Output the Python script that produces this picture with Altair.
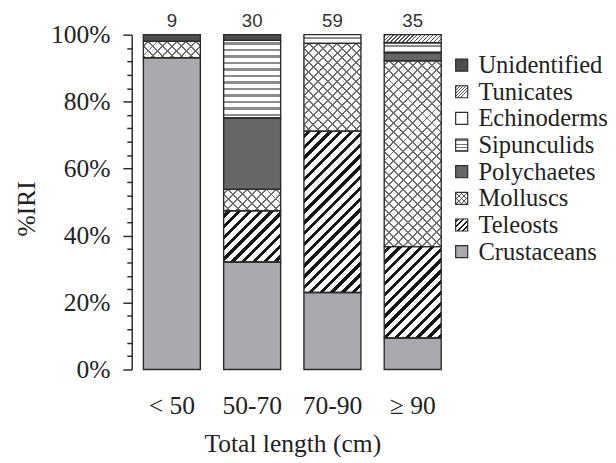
import altair as alt
import pandas as pd

# ---------------- data ----------------
sizes = ["< 50", "50-70", "70-90", "≥ 90"]
counts = [9, 30, 59, 35]
# stacking order, bottom to top
categories = ["Crustaceans", "Teleosts", "Molluscs", "Polychaetes",
              "Sipunculids", "Echinoderms", "Tunicates", "Unidentified"]
crustaceans = [93.1, 32.1, 23.0, 9.4]
teleosts = [0.0, 15.3, 48.2, 27.3]
molluscs = [4.9, 6.4, 26.2, 55.5]
polychaetes = [0.0, 21.3, 0.0, 2.4]
sipunculids = [0.0, 23.2, 2.6, 3.0]
echinoderms = [0.0, 0.0, 0.0, 0.0]
tunicates = [0.0, 0.0, 0.0, 2.4]
unidentified = [2.0, 1.7, 0.0, 0.0]

series = {
    "Crustaceans": crustaceans, "Teleosts": teleosts, "Molluscs": molluscs,
    "Polychaetes": polychaetes, "Sipunculids": sipunculids,
    "Echinoderms": echinoderms, "Tunicates": tunicates,
    "Unidentified": unidentified,
}

rows = []
for ci, cat in enumerate(categories):
    for si, s in enumerate(sizes):
        v = series[cat][si]
        if v > 0:
            rows.append({"size": s, "cat": cat, "order": ci, "value": v})
df = pd.DataFrame(rows)
count_df = pd.DataFrame({"size": sizes, "n": counts, "top": [100] * len(sizes)})

# ---------------- styles ----------------
SERIF = "Liberation Serif"
SANS = "Liberation Sans"
INK = "#2b2b2b"
TXT = "#222222"
W_PLOT, H_PLOT = 327, 341
P_IN, P_OUT = 0.29, 0.145
STEP = W_PLOT / (len(sizes) - P_IN + 2 * P_OUT)
BW = STEP * (1 - P_IN)

base_fills = ["#a9aaad", "#ffffff", "#ffffff", "#666666",
              "#ffffff", "#ffffff", "#ffffff", "#4e4e4e"]

# pattern definitions: (direction, period px, line px, colour)
bar_patterns = {
    "Teleosts": [("/", 11.0, 4.4, "#141414")],
    "Molluscs": [("/", 9.7, 2.0, "#6e6e6e"), ("\\", 9.7, 2.0, "#6e6e6e")],
    "Sipunculids": [("-", 6.6, 2.4, "#8c8c8c")],
    "Tunicates": [("/", 4.0, 1.4, "#555555")],
}
legend_patterns = {
    "Teleosts": [("/", 5.5, 2.2, "#141414")],
    "Molluscs": [("/", 5.0, 1.0, "#555555"), ("\\", 5.0, 1.0, "#555555")],
    "Sipunculids": [("-", 3.5, 1.2, "#777777")],
    "Tunicates": [("/", 3.0, 0.9, "#555555")],
}


def stripe_gradient(W, H, direction, period, line, color):
    bg = "rgba(255,255,255,0)"
    if direction in ("/", "\\"):
        r = H / W
        k = (1 + r) / (1 + r * r)
        if direction == "/":
            x1, y1, x2, y2 = 0, 0, k, k * r
        else:
            x1, y1, x2, y2 = 1, 0, 1 - k, k * r
        D = W + H
    else:
        x1, y1, x2, y2 = 0, 0, 0, 1
        D = H
    stops = [{"offset": 0, "color": bg}]
    a = period / 2.0 - line / 2.0
    while a < D:
        b = min(a + line, D)
        oa, ob = round(max(a, 0) / D, 5), round(b / D, 5)
        stops += [{"offset": oa, "color": bg}, {"offset": oa, "color": color},
                  {"offset": ob, "color": color}, {"offset": ob, "color": bg}]
        a += period
    stops.append({"offset": 1, "color": bg})
    return {"gradient": "linear", "x1": x1, "y1": y1, "x2": x2, "y2": y2,
            "stops": stops}


x_scale = alt.Scale(domain=sizes, paddingInner=P_IN, paddingOuter=P_OUT)
y_scale = alt.Scale(domain=[0, 100], nice=False)

base = alt.Chart(df).transform_stack(
    stack="value", groupby=["size"], as_=["y0", "y1"],
    sort=[alt.SortField("order", "ascending")],
)

y_axis = alt.Axis(
    values=list(range(0, 101, 4)),
    labelExpr="datum.value % 20 === 0 ? datum.value + '%' : ''",
    tickSize={"condition": {"test": "datum.value % 20 === 0", "value": 9}, "value": 5},
    labelOverlap=False, labelPadding=13, title="%IRI", titlePadding=11,
    titleY=177,
    tickWidth=1.5, tickColor=INK, domainColor=INK, domainWidth=1.5,
    grid=False, labelFont=SERIF, labelFontSize=26, labelColor=TXT,
    titleFont=SERIF, titleFontSize=26, titleFontWeight="normal", titleColor=TXT,
)
x_axis = alt.Axis(
    labelAngle=0, domain=False, ticks=False, labelPadding=24,
    title="Total length (cm)", titlePadding=12,
    grid=False, labelFont=SERIF, labelFontSize=26, labelColor=TXT,
    titleFont=SERIF, titleFontSize=26, titleFontWeight="normal", titleColor=TXT,
)

X_ENC = alt.X("size:N", sort=sizes, scale=x_scale, axis=x_axis)
Y_ENC = alt.Y("y0:Q", scale=y_scale, axis=y_axis)

fill_layer = base.mark_bar(strokeWidth=0).encode(
    x=X_ENC, y=Y_ENC, y2="y1:Q",
    fill=alt.Fill("cat:N", scale=alt.Scale(domain=categories, range=base_fills),
                  legend=None),
)

layers = [fill_layer]
for cat, pats in bar_patterns.items():
    for si, s in enumerate(sizes):
        v = series[cat][si]
        if v <= 0:
            continue
        H = v / 100.0 * H_PLOT
        for (d, per, ln, col) in pats:
            layers.append(
                base.transform_filter(
                    f"datum.cat === '{cat}' && datum.size === '{s}'"
                ).mark_bar(strokeWidth=0, fill=stripe_gradient(BW, H, d, per, ln, col)).encode(
                    x=X_ENC, y=Y_ENC, y2="y1:Q",
                )
            )

outline = base.mark_bar(fillOpacity=0, stroke=INK, strokeWidth=1.4).encode(
    x=X_ENC, y=Y_ENC, y2="y1:Q",
)
layers.append(outline)

count_text = alt.Chart(count_df).mark_text(
    baseline="bottom", dy=-4, font=SANS, fontSize=19, color="#333333"
).encode(
    x=X_ENC,
    y=alt.Y("top:Q", scale=y_scale, axis=y_axis),
    text="n:Q",
)
layers.append(count_text)

bars = alt.layer(*layers).properties(width=W_PLOT, height=H_PLOT)

# ---------------- legend ----------------
legend_order = categories[::-1]
leg_df = pd.DataFrame({"cat": legend_order})
SQ = 150
SIDE = SQ ** 0.5
leg_y = alt.Y("cat:N", scale=alt.Scale(type="point", domain=legend_order,
                                       range=[31, 221], padding=0), axis=None)
leg_base = alt.Chart(leg_df)
leg_layers = [
    leg_base.mark_square(size=SQ, opacity=1, strokeWidth=0).encode(
        x=alt.value(9), y=leg_y,
        fill=alt.Fill("cat:N", scale=alt.Scale(domain=categories, range=base_fills),
                      legend=None),
    )
]
for cat, pats in legend_patterns.items():
    for (d, per, ln, col) in pats:
        leg_layers.append(
            leg_base.transform_filter(f"datum.cat === '{cat}'").mark_square(
                size=SQ, opacity=1, strokeWidth=0,
                fill=stripe_gradient(SIDE, SIDE, d, per, ln, col),
            ).encode(x=alt.value(9), y=leg_y)
        )
leg_layers.append(
    leg_base.mark_square(size=SQ, fillOpacity=0, stroke=INK, strokeWidth=1.2,
                         opacity=1).encode(x=alt.value(9), y=leg_y)
)
leg_layers.append(
    leg_base.mark_text(align="left", baseline="middle", font=SERIF, fontSize=25,
                       color=TXT).encode(x=alt.value(26), y=leg_y, text="cat:N")
)
legend = alt.layer(*leg_layers).properties(width=125, height=H_PLOT)

chart = alt.hconcat(bars, legend, spacing=0).properties(
    padding={"left": 6, "top": 0, "right": 0, "bottom": 0}
).configure_view(strokeWidth=0).configure_axisY(labelOverlap=False)

chart.save("out.html", embed_options={"renderer": "svg", "actions": False})
